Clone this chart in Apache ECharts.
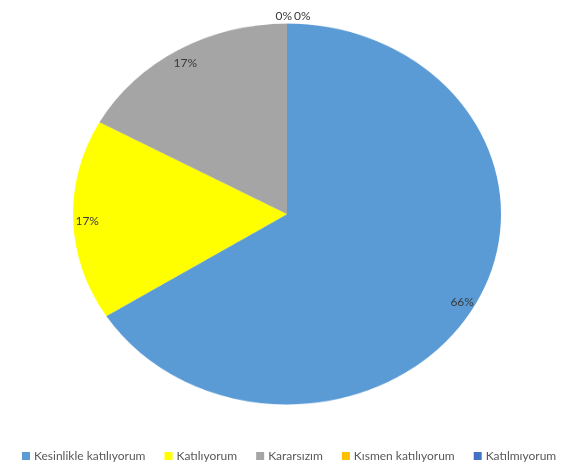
<!DOCTYPE html>
<html><head><meta charset="utf-8">
<script src="https://cdn.jsdelivr.net/npm/echarts@6/dist/echarts.min.js"></script>
<style>
html,body{margin:0;padding:0;background:#fff;width:564px;height:468px;overflow:hidden;position:relative}
#pie{position:absolute;left:0;top:0;width:564px;height:526px;transform:scaleY(0.8902);transform-origin:0 0}
#top{position:absolute;left:0;top:0;width:564px;height:468px}
</style></head><body>
<div id="pie"></div><div id="top"></div>
<script>
const categories = ['Kesinlikle katılıyorum', 'Katılıyorum', 'Kararsızım', 'Kısmen katılıyorum', 'Katılmıyorum'];
const values = [66, 17, 17, 0, 0];
const colors = ['#5B9BD5', '#FFFF00', '#A5A5A5', '#FFC000', '#4472C4'];

const CX = 287, CY = 214, R = 214, S = 190.5 / 214;
const FONT = 'Lato';

const seriesData = categories.map((name, i) => ({ name: name, value: values[i] }));
const zeroIdx = values.map((v, i) => v === 0 ? i : -1).filter(i => i >= 0);

// Pie shapes (stretched into an ellipse by the container's CSS transform)
const pieChart = echarts.init(document.getElementById('pie'), null, { renderer: 'canvas' });
pieChart.setOption({
  animation: false,
  color: colors,
  series: [{
    type: 'pie',
    center: [CX, CY / S],
    radius: R,
    startAngle: 90,
    clockwise: true,
    label: { show: false },
    labelLine: { show: false },
    itemStyle: { borderWidth: 0 },
    data: seriesData
  }]
});

// Labels and legend (unstretched)
const topChart = echarts.init(document.getElementById('top'), null, { renderer: 'canvas' });
topChart.setOption({
  animation: false,
  legend: {
    left: 22,
    top: 450,
    padding: 0,
    icon: 'rect',
    itemWidth: 8,
    itemHeight: 8,
    itemGap: 19,
    textStyle: { fontFamily: FONT, fontSize: 12, color: '#595959', padding: [0, 0, 0, -1] },
    data: categories.map((name, i) => ({ name: name, itemStyle: { color: colors[i] } }))
  },
  series: [{
    type: 'pie',
    center: [CX, CY],
    radius: [R * 0.84, R],
    startAngle: 90,
    clockwise: true,
    silent: true,
    avoidLabelOverlap: false,
    itemStyle: { color: 'rgba(0,0,0,0)', borderWidth: 0 },
    label: {
      show: true,
      position: 'inside',
      fontFamily: FONT,
      fontSize: 12,
      color: '#3a3a3a',
      formatter: p => Math.round(p.percent) + '%'
    },
    labelLine: { show: false },
    labelLayout: function (p) {
      const r = p.labelRect;
      const lx = r.x + r.width / 2, ly = r.y + r.height / 2;
      const y = CY + (ly - CY) * S;
      const k = zeroIdx.indexOf(p.dataIndex);
      if (k === 0) return { x: CX + 5, y: y, align: 'right', verticalAlign: 'middle' };
      if (k > 0) return { x: CX + 7, y: y, align: 'left', verticalAlign: 'middle' };
      return { x: lx, y: y + 2, align: 'center', verticalAlign: 'middle' };
    },
    data: seriesData.map((d, i) => zeroIdx.indexOf(i) >= 0
      ? Object.assign({}, d, { label: { position: 'outside' }, labelLine: { show: false, length: 8, length2: 0 } })
      : d)
  }]
});
</script>
</body></html>
